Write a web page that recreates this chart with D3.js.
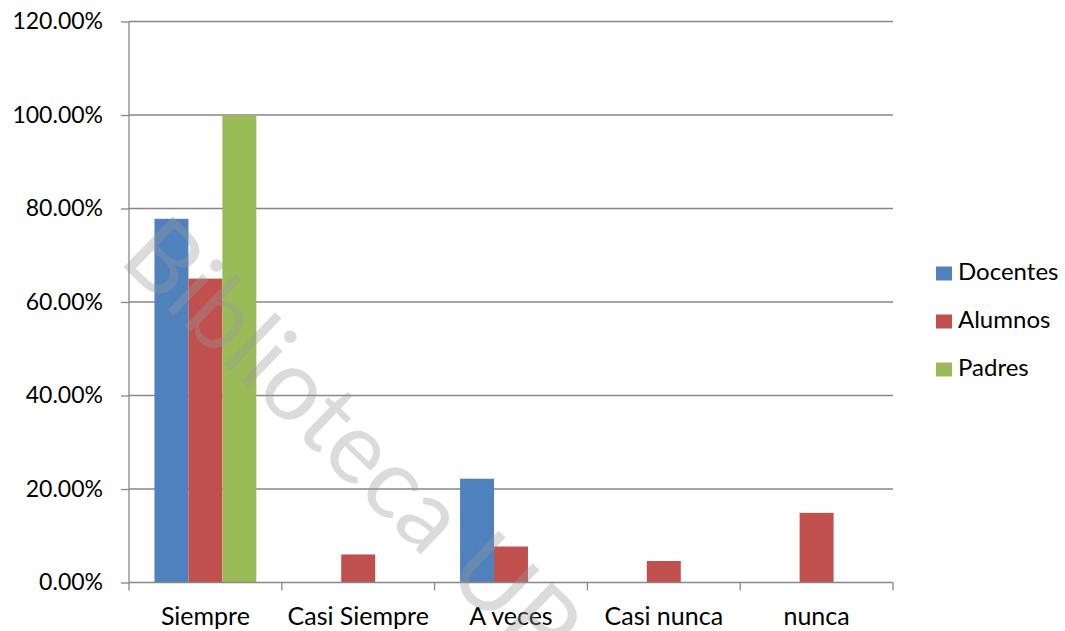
<!DOCTYPE html>
<html>
<head>
<meta charset="utf-8">
<script src="https://cdn.jsdelivr.net/npm/d3@7.9.0/dist/d3.min.js"></script>
<style>
  body { margin: 0; background: #fff; }
  text { font-family: Lato, "Open Sans", sans-serif; fill: #000; }
</style>
</head>
<body>
<svg width="1065" height="631"></svg>
<script>
// data
const categories = ['Siempre', 'Casi Siempre', 'A veces', 'Casi nunca', 'nunca'];
const seriesNames = ['Docentes', 'Alumnos', 'Padres'];
const docentes = [0.778, 0, 0.222, 0, 0];
const alumnos = [0.65, 0.06, 0.077, 0.046, 0.149];
const padres = [1.0, 0, 0, 0, 0];
const yTicks = [0, 0.2, 0.4, 0.6, 0.8, 1.0, 1.2];
const colors = ['#4F81BD', '#C0504D', '#9BBB59'];

const seriesValues = [docentes, alumnos, padres];

const svg = d3.select('svg');
const plotLeft = 129, plotRight = 893, plotTop = 21.5, plotBottom = 582.5;

let x = d3.scaleBand().domain(categories).range([plotLeft, plotRight]);
// 150% gap width between groups
let inner = d3.scaleBand().domain(seriesNames)
  .range([0, x.bandwidth()]).paddingOuter(0.75).paddingInner(0);
let y = d3.scaleLinear().domain([0, 1.2]).range([plotBottom, plotTop]);

// gridlines
svg.append('g')
  .selectAll('line')
  .data(yTicks.slice(1))
  .join('line')
  .attr('x1', plotLeft).attr('x2', plotRight)
  .attr('y1', d => y(d)).attr('y2', d => y(d))
  .attr('stroke', '#878787').attr('stroke-width', 1.3);

// bars
seriesValues.forEach((vals, s) => {
  svg.append('g')
    .selectAll('rect')
    .data(vals.map((v, i) => ({ cat: categories[i], v })))
    .join('rect')
    .attr('x', d => x(d.cat) + inner(seriesNames[s]))
    .attr('width', inner.bandwidth())
    .attr('y', d => y(d.v))
    .attr('height', d => plotBottom - y(d.v))
    .attr('fill', colors[s]);
});

// y axis
let yAxis = d3.axisLeft(y).tickValues(yTicks).tickSize(8).tickPadding(18)
  .tickFormat(d => (d * 100).toFixed(2) + '%');
let gy = svg.append('g').attr('transform', `translate(${plotLeft},0)`).call(yAxis);
gy.select('.domain').attr('stroke', '#878787').attr('stroke-width', 1.3)
  .attr('d', `M0,${plotTop}V${plotBottom + 0.5}`);
gy.selectAll('line').attr('stroke', '#878787').attr('stroke-width', 1.3);
gy.selectAll('text').attr('font-size', 23).attr('font-family', 'Lato').attr('fill', '#000');

// x axis with ticks between categories
let xAxis = svg.append('g');
xAxis.append('line')
  .attr('x1', plotLeft).attr('x2', plotRight)
  .attr('y1', plotBottom).attr('y2', plotBottom)
  .attr('stroke', '#878787').attr('stroke-width', 1.3);
xAxis.selectAll('line.tick')
  .data(categories.concat(['end']))
  .join('line')
  .attr('class', 'tick')
  .attr('x1', (d, i) => plotLeft + i * x.step())
  .attr('x2', (d, i) => plotLeft + i * x.step())
  .attr('y1', plotBottom).attr('y2', plotBottom + 8)
  .attr('stroke', '#878787').attr('stroke-width', 1.3);
xAxis.selectAll('text')
  .data(categories)
  .join('text')
  .attr('x', d => x(d) + x.bandwidth() / 2)
  .attr('y', 625)
  .attr('text-anchor', 'middle')
  .attr('font-size', 25)
  .text(d => d);

// legend
let legend = svg.append('g');
seriesNames.forEach((name, i) => {
  legend.append('rect')
    .attr('x', 936).attr('y', 266.5 + i * 48)
    .attr('width', 16).attr('height', 14)
    .attr('fill', colors[i]);
  legend.append('text')
    .attr('x', 958).attr('y', 280 + i * 48)
    .attr('font-size', 24)
    .text(name);
});

// watermark
svg.append('text')
  .attr('transform', 'translate(117,261) rotate(44)')
  .attr('font-size', 99)
  .style('fill', '#9a9a9a')
  .style('opacity', 0.35)
  .text('Biblioteca UP');
</script>
</body>
</html>
